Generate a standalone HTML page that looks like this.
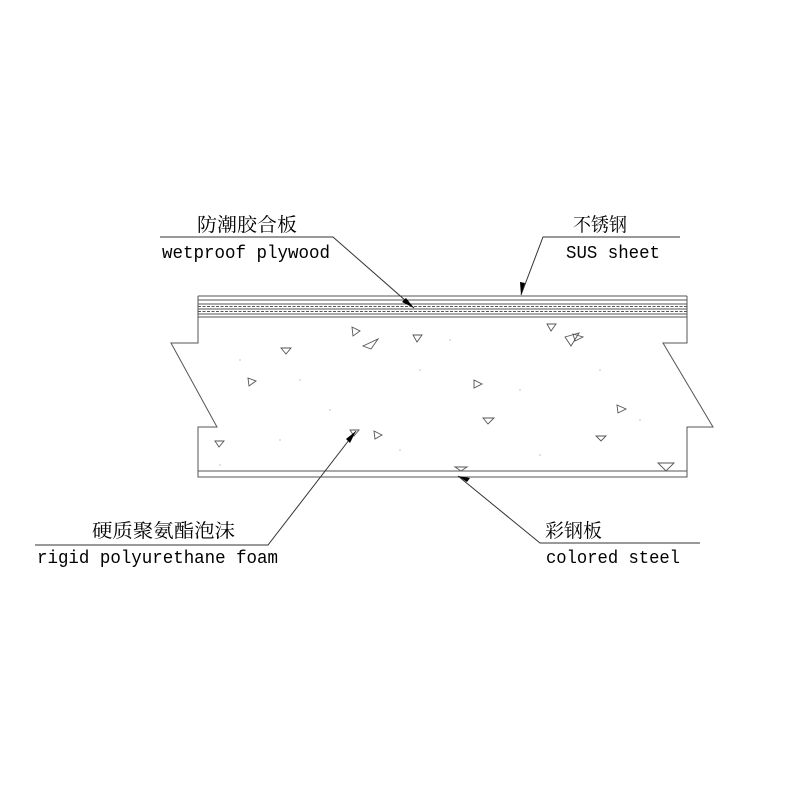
<!DOCTYPE html>
<html><head><style>
body{margin:0;background:#fff}
svg text{font-family:"Liberation Serif","Noto Serif CJK SC",serif;fill:#000}
svg text.m{font-family:"Liberation Mono",monospace}
</style></head><body>
<svg width="800" height="800" viewBox="0 0 800 800">
<rect width="800" height="800" fill="#fff"/>
<g stroke="#555" stroke-width="1" fill="none">
<line x1="198" y1="296" x2="687" y2="296"/>
<line x1="198" y1="300" x2="687" y2="300"/>
<line x1="198" y1="304" x2="687" y2="304"/>
<line x1="198" y1="306.5" x2="687" y2="306.5" stroke-dasharray="3,1.5"/>
<line x1="198" y1="309" x2="687" y2="309"/>
<line x1="198" y1="311.5" x2="687" y2="311.5" stroke-dasharray="3,1.5"/>
<line x1="198" y1="314" x2="687" y2="314"/>
<line x1="198" y1="317" x2="687" y2="317"/>
<line x1="198" y1="296" x2="198" y2="317"/>
<line x1="687" y1="296" x2="687" y2="317"/>
<polyline points="198,317 198,343 171,343 217,427 198,427 198,477 687,477 687,427 713,427 663,343 687,343 687,317"/>
<line x1="198" y1="471" x2="687" y2="471"/>
<g stroke-width="0.9">
<polygon points="352,327 360,331 353,336"/>
<polygon points="363,346 378,339 371,349"/>
<polygon points="281,348 291,348 286,354"/>
<polygon points="413,335 422,335 417,342"/>
<polygon points="248,378 256,381 249,386"/>
<polygon points="547,324 556,324 551,331"/>
<polygon points="565,337 579,333 571,346"/>
<polygon points="573,334 583,337 575,341"/>
<polygon points="474,380 482,384 474,388"/>
<polygon points="483,418 494,418 488,424"/>
<polygon points="617,405 626,409 618,413"/>
<polygon points="215,441 224,441 219,447"/>
<polygon points="350,430 359,430 354,436"/>
<polygon points="374,431 382,435 375,439"/>
<polygon points="596,436 606,436 601,441"/>
<polygon points="455,467 467,467 461,471"/>
<polygon points="658,463 674,463 666,471"/>
</g>
</g>
<g fill="#999">
<circle cx="240" cy="360" r=".6"/><circle cx="300" cy="380" r=".6"/><circle cx="420" cy="370" r=".6"/><circle cx="520" cy="390" r=".6"/><circle cx="600" cy="370" r=".6"/><circle cx="640" cy="420" r=".6"/><circle cx="280" cy="440" r=".6"/><circle cx="400" cy="450" r=".6"/><circle cx="540" cy="455" r=".6"/><circle cx="220" cy="465" r=".6"/><circle cx="330" cy="410" r=".6"/><circle cx="450" cy="340" r=".6"/>
</g>
<g stroke="#333" stroke-width="1" fill="none">
<polyline points="160,237 333,237 414,308"/>
<polyline points="680,237 543,237 521,295"/>
<polyline points="35,545 268,545 356,431"/>
<polyline points="700,543 540,543 458,476"/>
</g>
<g fill="#000">
<polygon points="414,308 402,302 406,298"/>
<polygon points="521,295 520,282 525,283"/>
<polygon points="356,431 350,443 346,439"/>
<polygon points="458,476 467,482 470,478"/>
</g>
<text x="197" y="231" font-size="19" textLength="100" lengthAdjust="spacingAndGlyphs">防潮胶合板</text>
<text class="m" x="162" y="258" font-size="18" textLength="168" lengthAdjust="spacingAndGlyphs">wetproof plywood</text>
<text x="573" y="231" font-size="19" textLength="54" lengthAdjust="spacingAndGlyphs">不锈钢</text>
<text class="m" x="566" y="258" font-size="18" textLength="94" lengthAdjust="spacingAndGlyphs">SUS sheet</text>
<text x="92" y="537" font-size="19" textLength="143" lengthAdjust="spacingAndGlyphs">硬质聚氨酯泡沫</text>
<text class="m" x="37" y="563" font-size="18" textLength="241" lengthAdjust="spacingAndGlyphs">rigid polyurethane foam</text>
<text x="545" y="537" font-size="19" textLength="57" lengthAdjust="spacingAndGlyphs">彩钢板</text>
<text class="m" x="546" y="563" font-size="18" textLength="134" lengthAdjust="spacingAndGlyphs">colored steel</text>
</svg>
</body></html>
